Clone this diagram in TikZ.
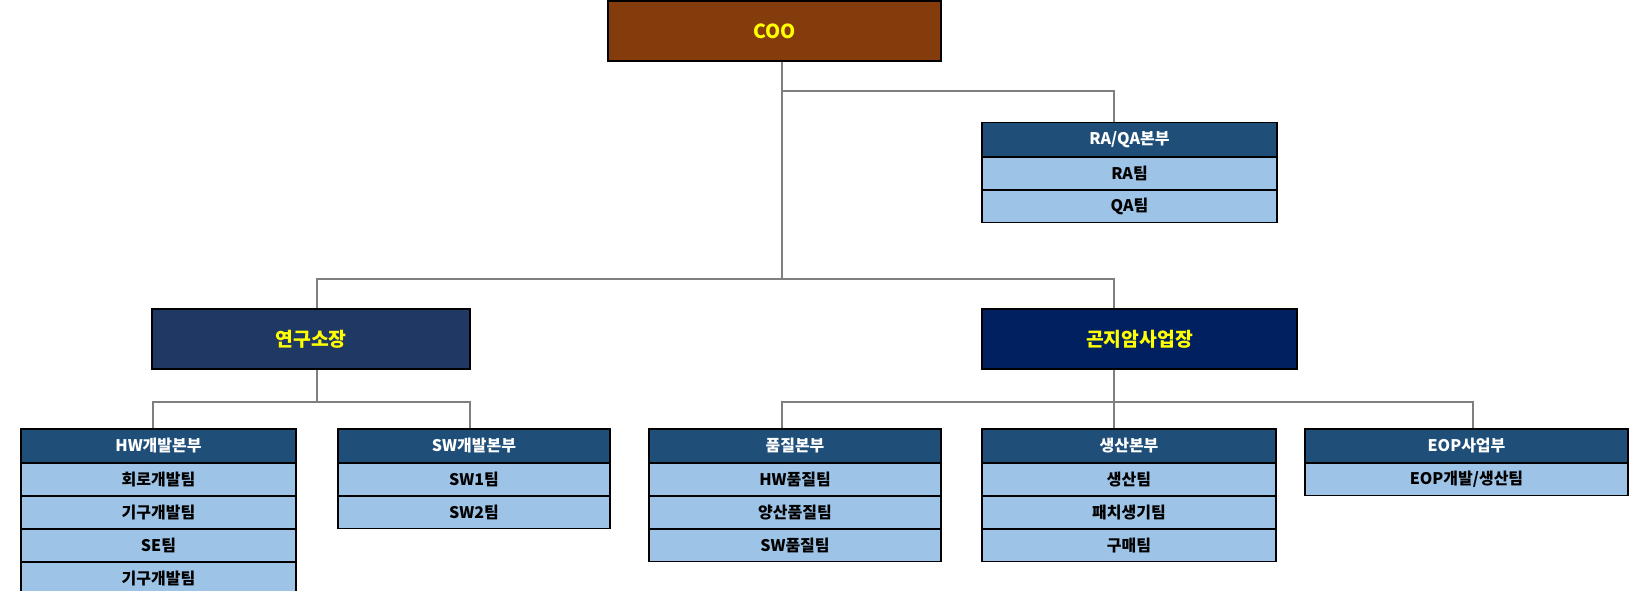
\documentclass[tikz,border=0pt]{standalone}
\usepackage{fontspec}
\setmainfont{Noto Sans CJK KR}
\definecolor{cooBrown}{HTML}{843C0C}
\definecolor{labNavy}{HTML}{203864}
\definecolor{siteNavy}{HTML}{002060}
\definecolor{hdrBlue}{HTML}{1F4E79}
\definecolor{rowBlue}{HTML}{9DC3E6}
\definecolor{textYellow}{HTML}{FFFF00}
\definecolor{lineGray}{HTML}{7F7F7F}
\tikzset{
  topbox/.style={draw=black, line width=1pt, rectangle, inner sep=0pt, minimum height=45pt,
    font=\bfseries\fontsize{14.5}{16}\selectfont, text=textYellow},
  hdr/.style={draw=black, line width=0.9pt, rectangle, inner sep=0pt, fill=hdrBlue, text=white,
    minimum height=25pt, font=\bfseries\fontsize{12}{14}\selectfont},
  rowbox/.style={draw=black, line width=0.9pt, rectangle, inner sep=0pt, fill=rowBlue, text=black,
    minimum height=23.85pt, font=\bfseries\fontsize{12}{14}\selectfont},
  conn/.style={draw=lineGray, line width=0.9pt}
}
\begin{document}
\begin{tikzpicture}[x=0.75pt,y=-0.75pt]
\useasboundingbox (0,0) rectangle (1629,591);
% x positions of connectors
\coordinate (xcoo) at (782,0);
\coordinate (xlab) at (317,0);
\coordinate (xsite) at (1114,0);
\coordinate (xhw) at (153,0);
\coordinate (xsw) at (470,0);
\coordinate (xeop) at (1473,0);
\coordinate (ja) at (0,91);
\coordinate (jb) at (0,279);
\coordinate (jc) at (0,402);

% top boxes
\node[topbox, fill=cooBrown, minimum width=249.75pt] (coo) at (774.5,31) {COO};
\node[topbox, fill=labNavy, minimum width=238.5pt] (lab) at (311,339) {연구소장};
\node[topbox, fill=siteNavy, minimum width=236.25pt] (site) at (1139.5,339) {곤지암사업장};

% RA/QA
\node[hdr, minimum width=221.25pt] (raqa) at (1129.5,139.5) {RA/QA본부};
\node[rowbox, minimum width=221.25pt, anchor=north] (ra) at (raqa.south) {RA팀};
\node[rowbox, minimum width=221.25pt, anchor=north] (qa) at (ra.south) {QA팀};

% HW
\node[hdr, minimum width=206.25pt] (hw) at (158.5,445.75) {HW개발본부};
\node[rowbox, minimum width=206.25pt, anchor=north] (hw1) at (hw.south) {회로개발팀};
\node[rowbox, minimum width=206.25pt, anchor=north] (hw2) at (hw1.south) {기구개발팀};
\node[rowbox, minimum width=206.25pt, anchor=north] (hw3) at (hw2.south) {SE팀};
\node[rowbox, minimum width=206.25pt, anchor=north] (hw4) at (hw3.south) {기구개발팀};

% SW
\node[hdr, minimum width=204pt] (sw) at (474,445.75) {SW개발본부};
\node[rowbox, minimum width=204pt, anchor=north] (sw1) at (sw.south) {SW1팀};
\node[rowbox, minimum width=204pt, anchor=north] (sw2) at (sw1.south) {SW2팀};

% Quality
\node[hdr, minimum width=219pt] (qual) at (795,445.75) {품질본부};
\node[rowbox, minimum width=219pt, anchor=north] (q1) at (qual.south) {HW품질팀};
\node[rowbox, minimum width=219pt, anchor=north] (q2) at (q1.south) {양산품질팀};
\node[rowbox, minimum width=219pt, anchor=north] (q3) at (q2.south) {SW품질팀};

% Production
\node[hdr, minimum width=220.5pt] (prod) at (1129,445.75) {생산본부};
\node[rowbox, minimum width=220.5pt, anchor=north] (p1) at (prod.south) {생산팀};
\node[rowbox, minimum width=220.5pt, anchor=north] (p2) at (p1.south) {패치생기팀};
\node[rowbox, minimum width=220.5pt, anchor=north] (p3) at (p2.south) {구매팀};

% EOP
\node[hdr, minimum width=242.25pt] (eop) at (1466.5,445.75) {EOP사업부};
\node[rowbox, minimum width=242.25pt, anchor=north] (e1) at (eop.south) {EOP개발/생산팀};

% connectors
\draw[conn] (coo.south -| xcoo) -- (xcoo |- jb);
\draw[conn] (xcoo |- ja) -| (raqa.north -| xsite);
\draw[conn] (lab.north -| xlab) |- (xsite |- jb) -- (site.north -| xsite);
\draw[conn] (lab.south -| xlab) -- (xlab |- jc);
\draw[conn] (hw.north -| xhw) |- (xsw |- jc) -- (sw.north -| xsw);
\draw[conn] (site.south -| xsite) -- (prod.north -| xsite);
\draw[conn] (qual.north -| xcoo) |- (xeop |- jc) -- (eop.north -| xeop);
\end{tikzpicture}
\end{document}
